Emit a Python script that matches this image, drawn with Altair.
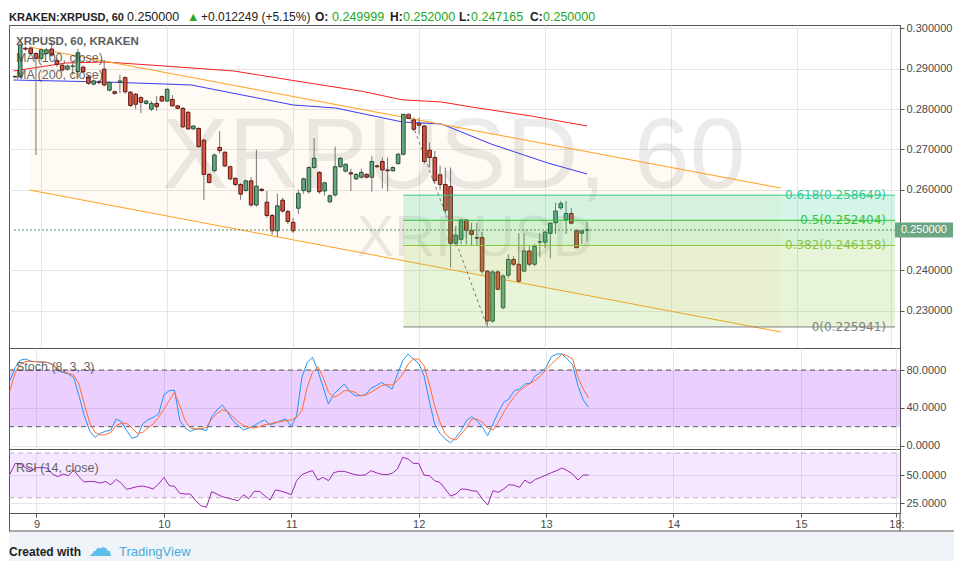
import altair as alt
import pandas as pd

# ---------------- data ----------------
# bar time in hours after day 9, 00:00 (1-hour candles)
HOURS = list(range(-5, 105))

OPEN = [0.2881, 0.2880, 0.2951, 0.2951, 0.2938, 0.2926, 0.2938, 0.2949, 0.2920, 0.2909,
        0.2899, 0.2906, 0.2893, 0.2904, 0.2880, 0.2862, 0.2867, 0.2899, 0.2847, 0.2843,
        0.2866, 0.2878, 0.2842, 0.2837, 0.2829, 0.2814, 0.2800, 0.2814, 0.2831, 0.2820,
        0.2824, 0.2808, 0.2802, 0.2792, 0.2751, 0.2752, 0.2723, 0.2638, 0.2647, 0.2705,
        0.2693, 0.2657, 0.2628, 0.2613, 0.2598, 0.2622, 0.2562, 0.2601, 0.2569, 0.2536,
        0.2498, 0.2574, 0.2546, 0.2519, 0.2554, 0.2598, 0.2595, 0.2655, 0.2643, 0.2597,
        0.2570, 0.2587, 0.2657, 0.2646, 0.2642, 0.2627, 0.2631, 0.2638, 0.2631, 0.2659,
        0.2670, 0.2649, 0.2647, 0.2665, 0.2688, 0.2787, 0.2773, 0.2765, 0.2758, 0.2698,
        0.2680, 0.2637, 0.2613, 0.2608, 0.2467, 0.2477, 0.2525, 0.2499, 0.2481, 0.2481,
        0.2398, 0.2274, 0.2396, 0.2307, 0.2388, 0.2427, 0.2415, 0.2398, 0.2448, 0.2415,
        0.2470, 0.2470, 0.2492, 0.2518, 0.2555, 0.2525, 0.2541, 0.2498, 0.2492, 0.249999]
HIGH = [0.2883, 0.2962, 0.2955, 0.2955, 0.2941, 0.2950, 0.2952, 0.2967, 0.2925, 0.2912,
        0.2910, 0.2915, 0.2950, 0.2908, 0.2884, 0.2873, 0.2872, 0.2922, 0.2868, 0.2846,
        0.2885, 0.2881, 0.2845, 0.2840, 0.2831, 0.2822, 0.2820, 0.2833, 0.2834, 0.2851,
        0.2835, 0.2810, 0.2805, 0.2795, 0.2760, 0.2755, 0.2726, 0.2641, 0.2690, 0.2745,
        0.2695, 0.2660, 0.2631, 0.2616, 0.2625, 0.2631, 0.2699, 0.2604, 0.2597, 0.2540,
        0.2590, 0.2580, 0.2550, 0.2530, 0.2600, 0.2630, 0.2658, 0.2728, 0.2646, 0.2620,
        0.2588, 0.2707, 0.2681, 0.2666, 0.2652, 0.2641, 0.2652, 0.2641, 0.2684, 0.2662,
        0.2680, 0.2680, 0.2658, 0.2691, 0.2788, 0.278867, 0.2779, 0.2779, 0.2760, 0.2717,
        0.2696, 0.2660, 0.2655, 0.2655, 0.2510, 0.2527, 0.2527, 0.2518, 0.2518, 0.2495,
        0.2400, 0.2400, 0.2400, 0.2390, 0.2440, 0.2435, 0.2492, 0.2492, 0.2460, 0.2465,
        0.2493, 0.2497, 0.2518, 0.2568, 0.2572, 0.2572, 0.2555, 0.2502, 0.2498, 0.2520]
LOW = [0.2877, 0.2877, 0.2945, 0.2935, 0.2686, 0.2920, 0.2935, 0.2930, 0.2905, 0.2893,
       0.2895, 0.2885, 0.2878, 0.2890, 0.2860, 0.2859, 0.2862, 0.2856, 0.2844, 0.2836,
       0.2840, 0.2838, 0.2805, 0.2800, 0.2790, 0.2811, 0.2795, 0.2796, 0.2818, 0.2818,
       0.2806, 0.2800, 0.2753, 0.2748, 0.2749, 0.2704, 0.2575, 0.2615, 0.2643, 0.2690,
       0.2656, 0.2623, 0.2609, 0.2575, 0.2595, 0.2558, 0.2558, 0.2595, 0.2530, 0.2488,
       0.2483, 0.2543, 0.2515, 0.2493, 0.2540, 0.2590, 0.2590, 0.2652, 0.2590, 0.2585,
       0.2567, 0.2583, 0.2655, 0.2643, 0.2597, 0.2624, 0.2628, 0.2628, 0.2595, 0.2655,
       0.2603, 0.2596, 0.2645, 0.2662, 0.2685, 0.2775, 0.2745, 0.2737, 0.2665, 0.2655,
       0.2615, 0.2600, 0.2540, 0.2407, 0.2460, 0.2465, 0.2465, 0.2460, 0.2460, 0.2390,
       0.225941, 0.2270, 0.2350, 0.2303, 0.2380, 0.2410, 0.2370, 0.2395, 0.2410, 0.2410,
       0.2432, 0.2455, 0.2430, 0.2490, 0.2550, 0.2490, 0.2514, 0.2455, 0.2465, 0.247165]
CLOSE = [0.2880, 0.2959, 0.2949, 0.2938, 0.2926, 0.2947, 0.2947, 0.2934, 0.2911, 0.2897,
         0.2907, 0.2907, 0.2940, 0.2893, 0.2864, 0.2870, 0.2866, 0.2860, 0.2866, 0.2839,
         0.2870, 0.2843, 0.2809, 0.2812, 0.2817, 0.2820, 0.2814, 0.2806, 0.2820, 0.2849,
         0.2808, 0.2802, 0.2756, 0.2751, 0.2758, 0.2707, 0.2638, 0.2618, 0.2686, 0.2697,
         0.2659, 0.2627, 0.2613, 0.2589, 0.2622, 0.2562, 0.2609, 0.2598, 0.2536, 0.2498,
         0.2560, 0.2547, 0.2521, 0.2498, 0.2591, 0.2627, 0.2655, 0.2678, 0.2595, 0.2617,
         0.2585, 0.2657, 0.2678, 0.2663, 0.2639, 0.2638, 0.2643, 0.2631, 0.2670, 0.2657,
         0.2649, 0.2647, 0.2655, 0.2688, 0.2787, 0.2777, 0.2750, 0.2760, 0.2670, 0.2680,
         0.2623, 0.2613, 0.2549, 0.2467, 0.2487, 0.2525, 0.2499, 0.2489, 0.2480, 0.2398,
         0.2274, 0.2396, 0.2353, 0.2386, 0.2427, 0.2415, 0.2373, 0.2448, 0.2415, 0.2459,
         0.2471, 0.2495, 0.2517, 0.2547, 0.2566, 0.2541, 0.2517, 0.2456, 0.2498, 0.2500]

STOCH_K = [68.7, 82.8, 90.6, 91.6, 89.2, 88.8, 88.5, 88.1, 86.3, 79.3,
           77.5, 75.8, 72.2, 52.8, 31.7, 15.8, 8.7, 13.0, 15.1, 16.5,
           28.1, 25.3, 15.8, 7.7, 9.5, 22.9, 27.4, 29.9, 33.4, 53.9,
           58.1, 58.8, 26.4, 18.6, 15.1, 17.6, 17.6, 15.8, 30.6, 37.7,
           43.0, 35.2, 26.4, 21.1, 16.5, 18.6, 21.1, 24.6, 27.1, 22.1,
           23.9, 26.4, 28.1, 20.0, 31.7, 72.2, 88.1, 93.4, 79.3, 61.7,
           44.0, 54.6, 59.9, 65.2, 57.4, 52.8, 52.8, 53.9, 60.6, 63.4,
           66.9, 63.4, 59.9, 75.8, 89.9, 96.9, 91.6, 87.1, 74.0, 47.5,
           22.9, 13.0, 7.0, 2.8, 8.7, 15.8, 26.4, 30.6, 26.4, 19.3,
           10.5, 22.9, 35.2, 45.8, 49.3, 58.1, 59.9, 65.2, 65.9, 74.0,
           77.5, 82.8, 94.1, 96.9, 96.9, 91.6, 85.6, 63.4, 48.3, 40.5]
STOCH_D = [58.1, 77.5, 86.3, 89.2, 89.2, 88.8, 88.5, 88.1, 85.6, 81.8,
           78.2, 76.5, 74.7, 65.2, 44.0, 24.6, 14.0, 11.2, 11.6, 14.0,
           21.1, 23.9, 23.5, 18.6, 13.0, 14.0, 18.6, 22.9, 29.9, 38.7,
           47.5, 56.4, 42.2, 26.4, 18.6, 17.6, 17.6, 19.3, 28.1, 34.1,
           37.7, 36.3, 30.6, 25.3, 21.1, 19.3, 18.6, 20.0, 22.1, 22.9,
           24.6, 25.3, 26.4, 27.1, 29.9, 37.0, 61.7, 77.5, 83.5, 72.2,
           56.4, 51.1, 53.9, 58.1, 58.1, 56.4, 52.8, 53.5, 56.4, 59.9,
           63.4, 64.5, 64.1, 68.7, 75.8, 86.3, 91.6, 91.6, 84.6, 65.2,
           42.2, 24.6, 12.3, 7.7, 5.9, 12.3, 18.6, 28.1, 28.1, 24.6,
           18.6, 16.5, 24.6, 35.2, 44.0, 51.8, 58.1, 62.4, 65.9, 69.4,
           74.0, 80.4, 86.3, 91.6, 96.9, 95.1, 91.6, 72.2, 59.9, 50.4]
RSI = [51.2, 60.7, 59.9, 56.6, 54.2, 56.9, 56.9, 56.6, 51.2, 48.8,
       51.2, 49.7, 54.8, 48.8, 44.0, 44.6, 44.3, 43.1, 44.6, 41.4,
       46.4, 42.8, 37.5, 38.7, 39.9, 40.5, 39.3, 37.8, 42.2, 48.2,
       40.8, 40.2, 33.9, 33.3, 33.3, 27.3, 22.8, 21.4, 35.4, 33.3,
       30.9, 29.7, 28.5, 27.3, 32.7, 29.1, 35.7, 35.7, 31.8, 27.9,
       36.9, 36.0, 34.5, 32.7, 45.2, 50.6, 52.7, 54.2, 45.8, 48.2,
       45.2, 52.4, 53.6, 53.6, 52.1, 50.6, 50.0, 50.6, 54.2, 52.4,
       50.9, 50.6, 51.8, 55.7, 66.1, 64.6, 60.7, 60.7, 50.3, 49.7,
       45.2, 43.7, 37.8, 31.5, 33.3, 37.8, 37.5, 36.3, 35.7, 28.8,
       23.4, 36.3, 34.8, 37.8, 41.7, 41.1, 39.3, 45.8, 42.8, 46.4,
       48.2, 50.3, 52.4, 54.2, 56.6, 54.2, 51.2, 45.8, 50.3, 50.3]

MA100_H = [-5.3, 12.2, 23.5, 28.6, 48.0, 56.1, 68.8, 76.3, 85.7, 96.5, 104]
MA100 = [0.28722, 0.28672, 0.28623, 0.28598, 0.28102, 0.28027, 0.27680, 0.27630, 0.27134, 0.26663, 0.26390]
MA200_H = [-5.3, 4.7, 12.2, 23.5, 36.7, 48.0, 61.2, 68.8, 76.3, 82.0, 93.3, 104]
MA200 = [0.28945, 0.29144, 0.29169, 0.29069, 0.28945, 0.28710, 0.28440, 0.28230, 0.28176, 0.28052, 0.27829, 0.27581]

CHANNEL_H = [-2.26, 140.9]
CHANNEL_UPPER = [0.29541, 0.26042]
CHANNEL_LOWER = [0.25993, 0.22469]

FIB_START = 69
FIB_RATIOS = ["0.618", "0.5", "0.382", "0"]
FIB_PRICES = [0.258649, 0.252404, 0.246158, 0.225941]
FIB_TREND_H = [70, 85]
FIB_TREND_P = [0.278867, 0.225941]
LAST_PRICE = 0.25

DAY_TICKS = [0, 24, 48, 72, 96, 120, 144, 162]
PRICE_TICKS = [0.23, 0.24, 0.26, 0.27, 0.28, 0.29, 0.30]

# ---------------- styling ----------------
FIB_COLORS = ["#2fcb8c", "#33c43b", "#8cc63f", "#808080"]
UP, DOWN = "#6ba583", "#d75442"
UP_EDGE, DOWN_EDGE = "#225437", "#5b1a13"
GRID = "#e6e6e6"
FRAME = "#555555"
LAB = "#4a4a4a"
SANS = "Liberation Sans"

X_MIN, X_MAX = -5.18, 162.67
W = 891
xs = alt.Scale(domain=[X_MIN, X_MAX], nice=False, zero=False)
ys_main = alt.Scale(domain=[0.22072, 0.300868], nice=False, zero=False)
ys_stoch = alt.Scale(domain=[-3.6, 103.3], nice=False, zero=False)
ys_rsi = alt.Scale(domain=[16.3, 73.6], nice=False, zero=False)

grid_x = alt.Axis(values=DAY_TICKS, grid=True, gridColor=GRID, labels=False, ticks=False,
                  domain=False, title=None)
x_axis_bottom = alt.Axis(
    values=DAY_TICKS, grid=True, gridColor=GRID, domainColor=FRAME, tickColor=FRAME,
    tickSize=4, labelPadding=1, labelColor=LAB, labelFontSize=11, labelFont=SANS, title=None,
    labelExpr="datum.value == 162 ? '18:' : '' + (9 + datum.value / 24)")


def right_axis(values, fmt):
    return alt.Axis(orient="right", values=values, format=fmt, grid=True, gridColor=GRID,
                    domainColor=FRAME, tickColor=FRAME, tickSize=4, labelPadding=2,
                    labelColor=LAB, labelFontSize=11, labelFont=SANS, title=None, zindex=0)


AX_MAIN_Y = right_axis(PRICE_TICKS, ".6f")
AX_STOCH_Y = right_axis([0, 40, 80], ".4f")
AX_RSI_Y = right_axis([25, 50], ".4f")


def one(**cols):
    return pd.DataFrame({k: [v] for k, v in cols.items()})


def label(text, x, y, size=13, color="#333333", font=SANS, weight="normal", opacity=1.0,
          align="left", baseline="alphabetic"):
    return alt.Chart(one(t=text)).mark_text(
        align=align, baseline=baseline, fontSize=size, font=font, fontWeight=weight,
        color=color, opacity=opacity
    ).encode(x=alt.value(x), y=alt.value(y), text="t:N")


df = pd.DataFrame({"h": HOURS, "open": OPEN, "high": HIGH, "low": LOW, "close": CLOSE,
                   "k": STOCH_K, "d": STOCH_D, "rsi": RSI})

# ---------------- header ----------------
HDR_Y = 12
header_parts = [
    ("KRAKEN:XRPUSD, 60", 0, "#222222", 11, "bold"),
    ("0.250000", 118, "#222222", 12.5, "normal"),
    ("\u25b2", 178, "#22a822", 12.5, "normal"),
    ("+0.012249 (+5.15%)", 192, "#222222", 12, "normal"),
    ("O:", 306, "#222222", 12, "bold"),
    ("0.249999", 323, "#22a822", 12.5, "normal"),
    ("H:", 381, "#222222", 12, "bold"),
    ("0.252000", 394, "#22a822", 12.5, "normal"),
    ("L:", 450, "#222222", 12, "bold"),
    ("0.247165", 462, "#22a822", 12.5, "normal"),
    ("C:", 521, "#222222", 12, "bold"),
    ("0.250000", 534, "#22a822", 12.5, "normal"),
]
header = alt.layer(*[
    label(t, x, HDR_Y, size=s, color=c, weight=w) for t, x, c, s, w in header_parts
]).properties(width=W, height=16, view=alt.ViewBackground(stroke="transparent"))


# ---------------- main price panel ----------------
def mx(field):
    return alt.X(f"{field}:Q", scale=xs, axis=grid_x, title=None)


def my(field):
    return alt.Y(f"{field}:Q", scale=ys_main, axis=AX_MAIN_Y, title=None)


chan_df = pd.DataFrame({"h": CHANNEL_H, "up": CHANNEL_UPPER, "lo": CHANNEL_LOWER})
channel_fill = alt.Chart(chan_df).mark_area(color="#ff9800", opacity=0.045, clip=True).encode(
    x=mx("h"), y=my("up"), y2="lo:Q")
wm1 = label("XRPUSD, 60", 444.5, 163, size=100, color="#000000", opacity=0.075, align="center")
wm2 = label("XRPUSD", 466, 231, size=57, color="#000000", opacity=0.075, align="center")

ma100 = alt.Chart(pd.DataFrame({"h": MA100_H, "p": MA100})).mark_line(
    color="#3b3bf5", strokeWidth=1, clip=True).encode(x=mx("h"), y=my("p"))
ma200 = alt.Chart(pd.DataFrame({"h": MA200_H, "p": MA200})).mark_line(
    color="#f51f1f", strokeWidth=1, clip=True).encode(x=mx("h"), y=my("p"))
chan_up = alt.Chart(chan_df).mark_line(color="#ffa020", strokeWidth=1, clip=True).encode(
    x=mx("h"), y=my("up"))
chan_lo = alt.Chart(chan_df).mark_line(color="#ffa020", strokeWidth=1, clip=True).encode(
    x=mx("h"), y=my("lo"))

up_cond = "datum.close >= datum.open"
wicks = alt.Chart(df).mark_rule(color="#737375", strokeWidth=1, clip=True).encode(
    x=mx("h"), y=my("low"), y2="high:Q")
bodies = alt.Chart(df).mark_bar(width=3.6, strokeWidth=1, clip=True).encode(
    x=mx("h"), y=my("open"), y2="close:Q",
    color=alt.condition(up_cond, alt.value(UP), alt.value(DOWN)),
    stroke=alt.condition(up_cond, alt.value(UP_EDGE), alt.value(DOWN_EDGE)),
)

band_df = pd.DataFrame({
    "x0": [FIB_START] * 3, "x1": [X_MAX] * 3,
    "a": FIB_PRICES[:3], "b": FIB_PRICES[1:], "c": FIB_COLORS[:3]})
fib_fill = alt.Chart(band_df).mark_rect(opacity=0.2, clip=True).encode(
    x=mx("x0"), x2="x1:Q", y=my("a"), y2="b:Q", color=alt.Color("c:N", scale=None))
lvl_df = pd.DataFrame({
    "x0": [FIB_START] * 4, "x1": [X_MAX] * 4, "p": FIB_PRICES, "c": FIB_COLORS,
    "t": [f"{r}({p:.6f})" for r, p in zip(FIB_RATIOS, FIB_PRICES)]})
fib_lines = alt.Chart(lvl_df).mark_rule(strokeWidth=1, clip=True).encode(
    x=mx("x0"), x2="x1:Q", y=my("p"), color=alt.Color("c:N", scale=None))
fib_text = alt.Chart(lvl_df).mark_text(
    align="right", baseline="middle", dx=-9, fontSize=12, font="DejaVu Sans").encode(
    x=mx("x1"), y=my("p"), text="t:N", color=alt.Color("c:N", scale=None))
fib_trend = alt.Chart(pd.DataFrame({"h": FIB_TREND_H, "p": FIB_TREND_P})).mark_line(
    color="#7a7a7a", strokeWidth=1, strokeDash=[3, 3], clip=True).encode(x=mx("h"), y=my("p"))

last_df = one(x0=X_MIN, x1=X_MAX, p=LAST_PRICE, t=f"{LAST_PRICE:.6f}")
last_line = alt.Chart(last_df).mark_rule(
    color="#4f8a5f", strokeWidth=1, strokeDash=[2, 2], clip=True).encode(
    x=mx("x0"), x2="x1:Q", y=my("p"))
last_box = alt.Chart(last_df).mark_rect(color=UP, x2Offset=58, yOffset=-7.5, y2Offset=7.5).encode(
    x=mx("x1"), x2="x1:Q", y=my("p"), y2="p:Q")
last_txt = alt.Chart(last_df).mark_text(
    align="left", baseline="middle", dx=6, color="white", fontSize=11, font=SANS).encode(
    x=mx("x1"), y=my("p"), text="t:N")

main = alt.layer(
    channel_fill, wm1, wm2, ma200, ma100, chan_up, chan_lo, wicks, bodies,
    fib_fill, fib_lines, fib_trend, last_line, fib_text,
    label("XRPUSD, 60, KRAKEN", 7, 20, size=11.5, color="#333333", weight="bold", opacity=0.8),
    label("MA (100, close)", 7, 37, size=12.5, color="#333333", opacity=0.75),
    label("MA (200, close)", 7, 54, size=12.5, color="#333333", opacity=0.75),
    last_box, last_txt,
).properties(width=W, height=323)


# ---------------- stochastic panel ----------------
def sx(field):
    return alt.X(f"{field}:Q", scale=xs, axis=grid_x, title=None)


def sy(field):
    return alt.Y(f"{field}:Q", scale=ys_stoch, axis=AX_STOCH_Y, title=None)


def sband(lo, hi, col, op, fx, fy):
    return alt.Chart(one(x0=X_MIN, x1=X_MAX, a=lo, b=hi)).mark_rect(
        color=col, opacity=op, clip=True).encode(x=fx("x0"), x2="x1:Q", y=fy("a"), y2="b:Q")


def hline(v, col, dash, fx, fy):
    return alt.Chart(one(x0=X_MIN, x1=X_MAX, v=v)).mark_rule(
        color=col, strokeWidth=1, strokeDash=dash, clip=True).encode(
        x=fx("x0"), x2="x1:Q", y=fy("v"))


stoch = alt.layer(
    sband(20, 80, "#9915ff", 0.2, sx, sy),
    hline(80, "#555555", [5, 4], sx, sy),
    hline(20, "#555555", [5, 4], sx, sy),
    alt.Chart(df).mark_line(color="#2196f3", strokeWidth=1, clip=True).encode(
        x=sx("h"), y=sy("k")),
    alt.Chart(df).mark_line(color="#ff6d2e", strokeWidth=1, clip=True).encode(
        x=sx("h"), y=sy("d")),
    label("Stoch (8, 3, 3)", 7, 23, size=12.5, color="#333333", opacity=0.75),
).properties(width=W, height=101)


# ---------------- RSI panel ----------------
def rx(field):
    return alt.X(f"{field}:Q", scale=xs, axis=x_axis_bottom, title=None)


def ry(field):
    return alt.Y(f"{field}:Q", scale=ys_rsi, axis=AX_RSI_Y, title=None)


def deco_rule(x, x2, y, y2, col=FRAME):
    return alt.Chart(one(z=0)).mark_rule(color=col, strokeWidth=1).encode(
        x=alt.value(x), x2=alt.value(x2), y=alt.value(y), y2=alt.value(y2))


footer_bg = alt.Chart(one(z=0)).mark_rect(color="#f0f3f7").encode(
    x=alt.value(0), x2=alt.value(945), y=alt.value(83), y2=alt.value(112))

rsi = alt.layer(
    sband(30, 70, "#9915ff", 0.1, rx, ry),
    hline(70, "#b9adbf", [5, 4], rx, ry),
    hline(30, "#b9adbf", [5, 4], rx, ry),
    alt.Chart(df).mark_line(color="#9c27b0", strokeWidth=1, clip=True).encode(
        x=rx("h"), y=ry("rsi")),
    label("RSI (14, close)", 7, 23, size=12.5, color="#333333", opacity=0.75),
    footer_bg,
    deco_rule(0.5, 0.5, 64, 82),
    deco_rule(891, 891, 64, 82),
    deco_rule(0, 945, 82, 82),
    label("Created with", 0, 107, size=12, color="#1e1e1e", weight="bold"),
    label("\u2601", 91, 107, size=24, color="#5bbde8", font="DejaVu Sans", align="center"),
    label("TradingView", 110, 107, size=13, color="#4aace0"),
).properties(width=W, height=64)

chart = alt.vconcat(header, main, stoch, rsi, spacing=0, bounds="flush").properties(
    padding=0, background="white"
).configure_view(stroke=FRAME, strokeWidth=1)

chart.save("out.html", embed_options={"renderer": "svg", "actions": False})
